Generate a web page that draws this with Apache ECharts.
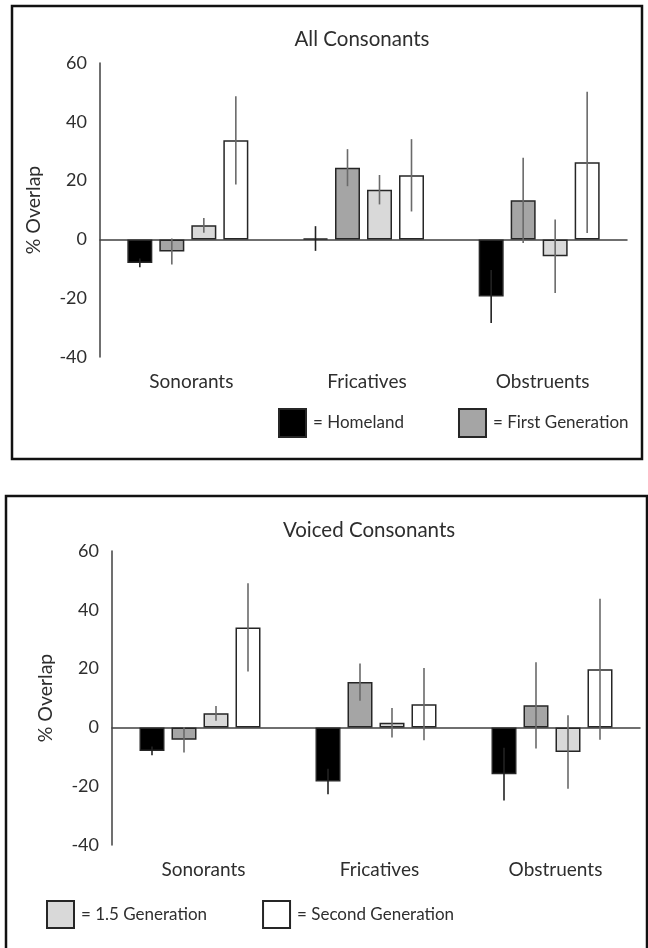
<!DOCTYPE html>
<html>
<head>
<meta charset="utf-8">
<script src="https://cdn.jsdelivr.net/npm/echarts@6/dist/echarts.min.js"></script>
<style>
html,body{margin:0;padding:0;background:#fff;}
#chart{width:648px;height:948px;}
</style>
</head>
<body>
<div id="chart"></div>
<script>
// ---- data ----
const categories = ['Sonorants', 'Fricatives', 'Obstruents'];
const seriesNames = ['Homeland', 'First Generation', '1.5 Generation', 'Second Generation'];
const yTicks = [-40, -20, 0, 20, 40, 60];

// All Consonants
const allHomeland = [-8.0, 0.3, -19.4];
const allHomelandErr = [1.5, 4.2, 9.0];
const allFirst = [-4.1, 24.4, 13.3];
const allFirstErr = [4.4, 6.3, 14.5];
const allOneFive = [4.8, 16.9, -5.7];
const allOneFiveErr = [2.5, 5.0, 12.5];
const allSecond = [33.7, 21.8, 26.2];
const allSecondErr = [15.0, 12.3, 24.0];

// Voiced Consonants
const voicedHomeland = [-8.0, -18.4, -15.9];
const voicedHomelandErr = [1.5, 4.3, 9.0];
const voicedFirst = [-4.2, 15.4, 7.5];
const voicedFirstErr = [4.3, 6.3, 14.7];
const voicedOneFive = [4.8, 1.6, -8.4];
const voicedOneFiveErr = [2.5, 5.0, 12.5];
const voicedSecond = [34.0, 7.9, 19.8];
const voicedSecondErr = [15.0, 12.3, 24.0];

// ---- styles ----
const FONT = 'Lato';
const TEXT = '#2e2e2e';
const AXIS = '#404040';
const ERR = '#6a6a6a';
const BAR_W = 25;
const BAR_GAP = 0.28;
const fills = ['#000000', '#a5a5a5', '#d9d9d9', '#ffffff'];

const chart = echarts.init(document.getElementById('chart'), null, {renderer: 'canvas'});

function panelAxes(gridIndex) {
  return {
    x: [
      {
        type: 'category', gridIndex, data: categories, position: 'bottom',
        axisLine: {show: false, onZero: false}, axisTick: {show: false},
        axisLabel: {color: TEXT, fontFamily: FONT, fontSize: 19, margin: 15, padding: [0, 0, 0, 7]}
      },
      {
        type: 'category', gridIndex, data: categories, position: 'bottom',
        axisLine: {show: true, onZero: true, lineStyle: {color: AXIS, width: 1.5}},
        axisTick: {show: false}, axisLabel: {show: false}
      }
    ],
    y: {
      type: 'value', gridIndex, min: yTicks[0], max: yTicks[yTicks.length - 1], interval: 20,
      name: '% Overlap', nameLocation: 'middle', nameRotate: 90, nameGap: 56,
      nameTextStyle: {color: TEXT, fontFamily: FONT, fontSize: 19.5},
      axisLine: {show: true, lineStyle: {color: AXIS, width: 1.5}},
      axisTick: {show: false}, splitLine: {show: false},
      axisLabel: {color: TEXT, fontFamily: FONT, fontSize: 18, margin: 13}
    }
  };
}

function barSeries(name, idx, vals, xAxisIndex, yAxisIndex) {
  return {
    type: 'bar', name, xAxisIndex, yAxisIndex, data: vals,
    barWidth: BAR_W, barGap: (BAR_GAP * 100) + '%',
    itemStyle: {color: fills[idx], borderColor: '#262626', borderWidth: 1.5},
    emphasis: {disabled: true}, z: 2
  };
}

function errSeries(name, idx, vals, errs, xAxisIndex, yAxisIndex) {
  return {
    type: 'custom', name: name + ' err', xAxisIndex, yAxisIndex, z: 5, silent: true,
    encode: {x: 0, y: 1},
    data: vals.map((v, i) => [i, v, errs[i]]),
    renderItem: function (params, api) {
      const c = api.value(0), v = api.value(1), e = api.value(2);
      const top = api.coord([c, v + e]);
      const bot = api.coord([c, v - e]);
      const x = top[0] + (idx - 1.5) * BAR_W * (1 + BAR_GAP);
      return {
        type: 'line',
        shape: {x1: x, y1: top[1], x2: x, y2: bot[1]},
        style: {stroke: idx === 0 ? '#222' : ERR, lineWidth: 1.6}
      };
    }
  };
}

const a0 = panelAxes(0), a1 = panelAxes(1);

const allSets = [[allHomeland, allHomelandErr], [allFirst, allFirstErr], [allOneFive, allOneFiveErr], [allSecond, allSecondErr]];
const voicedSets = [[voicedHomeland, voicedHomelandErr], [voicedFirst, voicedFirstErr], [voicedOneFive, voicedOneFiveErr], [voicedSecond, voicedSecondErr]];

const series = [];
allSets.forEach((s, i) => series.push(barSeries(seriesNames[i], i, s[0], 0, 0)));
allSets.forEach((s, i) => series.push(errSeries(seriesNames[i], i, s[0], s[1], 0, 0)));
voicedSets.forEach((s, i) => series.push(barSeries(seriesNames[i], i, s[0], 2, 1)));
voicedSets.forEach((s, i) => series.push(errSeries(seriesNames[i], i, s[0], s[1], 2, 1)));

const legendText = {color: TEXT, fontFamily: FONT, fontSize: 17, padding: [0, 0, 0, 2]};

chart.setOption({
  backgroundColor: '#fff',
  animation: false,
  grid: [
    {left: 100, top: 63, width: 527, height: 294},
    {left: 112, top: 551, width: 528, height: 294}
  ],
  xAxis: [a0.x[0], a0.x[1], a1.x[0], a1.x[1]],
  yAxis: [a0.y, a1.y],
  legend: [
    {
      data: ['Homeland', 'First Generation'], left: 278, top: 408, padding: 0,
      itemWidth: 27, itemHeight: 28, itemGap: 54, icon: 'rect',
      formatter: '= {name}', textStyle: legendText, selectedMode: false
    },
    {
      data: ['1.5 Generation', 'Second Generation'], left: 46, top: 900, padding: 0,
      itemWidth: 27, itemHeight: 27, itemGap: 55, icon: 'rect',
      formatter: '= {name}', textStyle: legendText, selectedMode: false
    }
  ],
  graphic: [
    {type: 'rect', shape: {x: 12, y: 6, width: 630, height: 453}, style: {fill: 'none', stroke: '#111', lineWidth: 2.5}, z: -1},
    {type: 'rect', shape: {x: 6, y: 496, width: 641, height: 470}, style: {fill: 'none', stroke: '#111', lineWidth: 2.5}, z: -1},
    {type: 'text', x: 362, y: 39, style: {text: 'All Consonants', fill: TEXT, font: '20.5px Lato', textAlign: 'center', textVerticalAlign: 'middle'}},
    {type: 'text', x: 369, y: 530, style: {text: 'Voiced Consonants', fill: TEXT, font: '20.5px Lato', textAlign: 'center', textVerticalAlign: 'middle'}}
  ],
  series
});
</script>
</body>
</html>
